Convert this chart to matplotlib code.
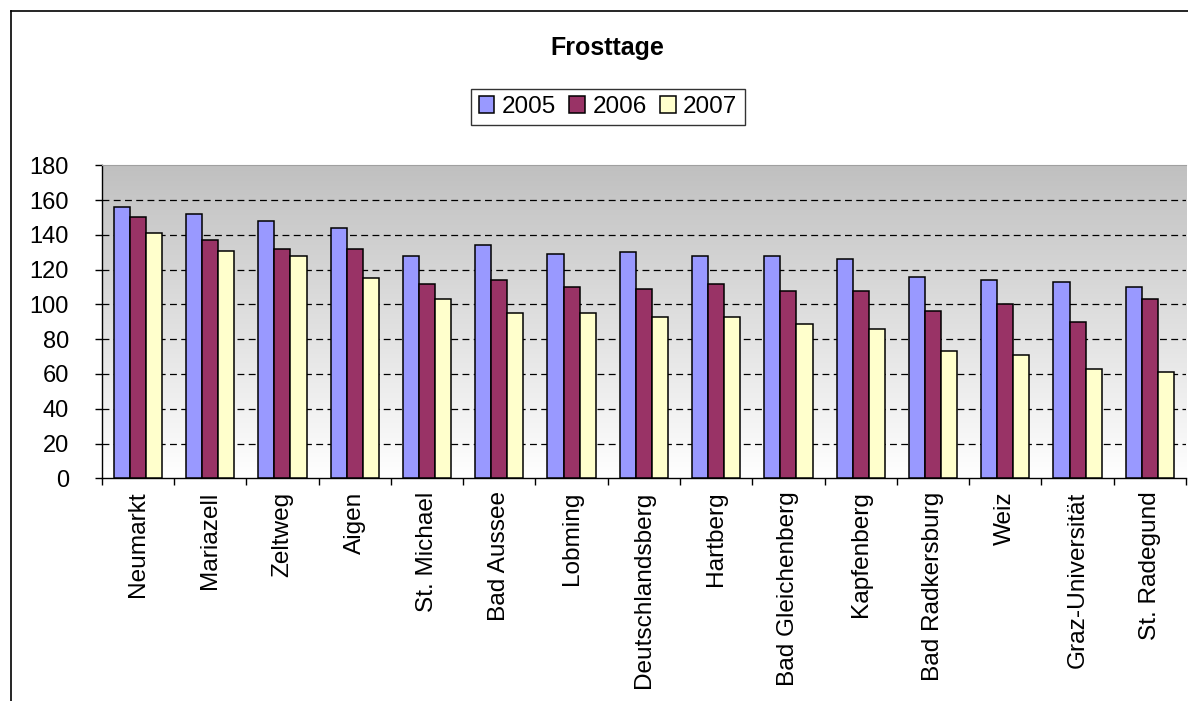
import numpy as np
import matplotlib
matplotlib.use("Agg")
import matplotlib.pyplot as plt
from matplotlib.lines import Line2D
from matplotlib.colors import LinearSegmentedColormap

plt.rcParams['font.family'] = ['Liberation Sans', 'DejaVu Sans']

stations = ["Neumarkt", "Mariazell", "Zeltweg", "Aigen", "St. Michael", "Bad Aussee",
            "Lobming", "Deutschlandsberg", "Hartberg", "Bad Gleichenberg", "Kapfenberg",
            "Bad Radkersburg", "Weiz", "Graz-Universität", "St. Radegund"]
v2005 = [156, 152, 148, 144, 128, 134, 129, 130, 128, 128, 126, 116, 114, 113, 110]
v2006 = [150, 137, 132, 132, 112, 114, 110, 109, 112, 108, 108, 96, 100, 90, 103]
v2007 = [141, 131, 128, 115, 103, 95, 95, 93, 93, 89, 86, 73, 71, 63, 61]
years = ["2005", "2006", "2007"]
colors = ["#9999FF", "#993366", "#FFFFCC"]
yticks = [0, 20, 40, 60, 80, 100, 120, 140, 160, 180]

W, H = 1188, 701
fig = plt.figure(figsize=(W / 100, H / 100), dpi=100)
ax = fig.add_axes([101.7 / W, 1 - 478.3 / H, (1186 - 101.7) / W, (478.3 - 165.3) / H])

# gradient background
cmap = LinearSegmentedColormap.from_list("g", ["#FFFFFF", "#C0C0C0"])
grad = np.linspace(0, 1, 256).reshape(-1, 1)
ax.imshow(grad, aspect="auto", cmap=cmap, origin="lower",
          extent=[0, 1, 0, 1], transform=ax.transAxes, zorder=0)

x = np.arange(len(stations))
w = 1 / 4.5
for i, (vals, c, lab) in enumerate(zip([v2005, v2006, v2007], colors, years)):
    ax.bar(x + (i - 1) * w, vals, width=w, color=c, edgecolor="black",
           linewidth=1.1, label=lab, zorder=3)

ax.set_xlim(-0.5, len(stations) - 0.5)
ax.set_ylim(0, 180)
ax.set_yticks(yticks)
ax.set_yticklabels([str(t) for t in yticks], fontsize=17)
for t in yticks[1:-1]:
    ax.axhline(t, color="black", linewidth=0.9, linestyle=(0, (5.5, 3.5)), zorder=1)

ax.set_xticks(x)
ax.set_xticklabels(stations, rotation=90, fontsize=17.6, va="top", ha="center")
ax.set_xticks(np.arange(-0.5, len(stations)), minor=True)
ax.tick_params(axis="x", which="major", length=0, pad=9.5)
ax.tick_params(axis="x", which="minor", length=5, width=1, direction="out")
ax.tick_params(axis="y", length=5, width=1, direction="out", pad=18.5)

ax.spines["right"].set_visible(False)
ax.spines["top"].set_color("#A0A0A0")
ax.spines["top"].set_linewidth(0.8)
ax.spines["left"].set_linewidth(1)
ax.spines["bottom"].set_linewidth(1)

fig.text(607 / W, 1 - 48 / H, "Frosttage", ha="center", va="center",
         fontsize=18, fontweight="bold")

leg = fig.legend(loc="center", bbox_to_anchor=(608 / W, 1 - 107 / H), ncol=3,
                 fontsize=17.5, frameon=True, fancybox=False, edgecolor="black",
                 handlelength=0.65, handleheight=0.65, handletextpad=0.3,
                 columnspacing=0.55, borderpad=0.3, borderaxespad=0)
leg.get_frame().set_linewidth(1)

# chart area border (top and left)
fig.add_artist(Line2D([10.5 / W, 1], [1 - 11 / H, 1 - 11 / H], color="black",
                      linewidth=1.2, transform=fig.transFigure))
fig.add_artist(Line2D([10.5 / W, 10.5 / W], [0, 1 - 11 / H], color="black",
                      linewidth=1.2, transform=fig.transFigure))

fig.savefig("out.png", dpi=100)
